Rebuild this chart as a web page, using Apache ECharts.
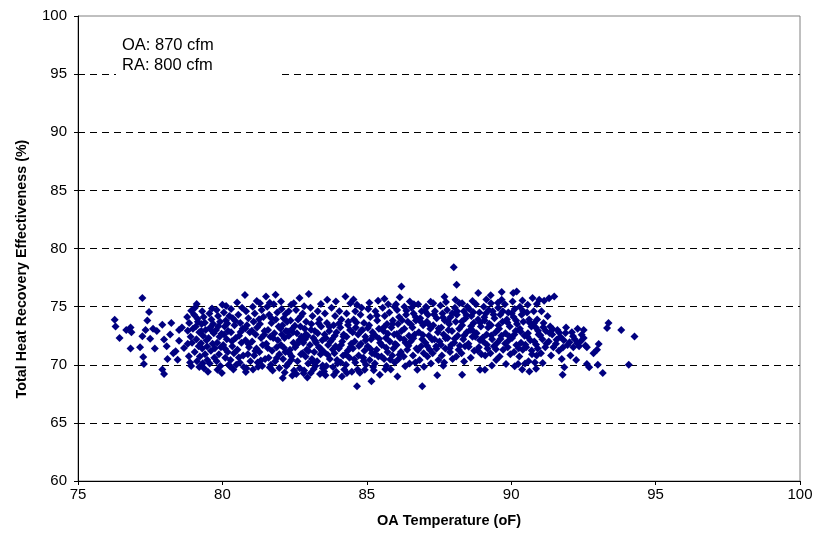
<!DOCTYPE html>
<html>
<head>
<meta charset="utf-8">
<script src="https://cdn.jsdelivr.net/npm/echarts@6/dist/echarts.min.js"></script>
<style>
  html, body { margin: 0; padding: 0; background: #fff; }
  #chart { width: 832px; height: 543px; }
</style>
</head>
<body>
<div id="chart"></div>
<script>
// Measured points: outdoor-air temperature (oF) and total heat recovery effectiveness (%)
const oaTemp = [
  76.27,76.30,76.44,76.67,76.82,76.85,76.82,
  77.23,77.46,77.40,77.34,77.23,77.15,77.26,77.28,77.50,77.66,77.73,77.92,77.92,77.98,77.98,77.60,
  78.07,78.23,78.19,78.30,78.38,78.50,78.50,78.45,78.10,78.60,78.80,78.67,78.84,78.92,
  78.78,78.85,78.90,78.95,78.80,78.88,78.98,78.92,
  79.05,79.11,79.02,79.15,79.08,79.20,79.10,79.18,79.04,79.22,79.12,79.20,
  79.30,79.35,79.28,79.42,79.33,79.45,79.30,79.40,79.48,79.36,79.27,
  79.50,79.55,79.62,79.58,79.70,79.52,79.66,79.60,79.72,79.56,79.68,
  79.98,79.80,79.85,79.92,79.78,79.90,79.82,79.95,79.88,79.80,79.93,80.00,
  80.05,80.12,80.08,80.20,80.15,80.03,80.18,80.10,80.22,80.06,80.24,
  80.30,80.36,80.42,80.30,80.46,80.34,80.40,80.28,80.48,80.38,
  80.55,80.62,80.70,80.58,80.66,80.52,80.72,80.60,80.68,80.74,
  80.78,80.82,80.90,80.85,80.95,80.80,80.92,80.88,80.97,80.83,
  81.05,81.12,81.08,81.20,81.15,81.03,81.18,81.10,81.22,81.06,
  81.30,81.36,81.42,81.30,81.46,81.34,81.40,81.28,81.48,81.38,81.51,
  81.55,81.62,81.70,81.58,81.66,81.52,81.72,81.60,81.68,81.74,
  81.84,81.78,81.90,81.85,81.95,81.80,81.92,81.88,81.97,81.83,81.97,
  82.03,82.09,82.05,82.12,82.08,82.20,82.15,82.03,82.18,82.10,82.22,82.06,82.24,
  82.38,82.30,82.36,82.42,82.30,82.46,82.34,82.40,82.28,82.48,82.44,82.32,
  82.67,82.55,82.62,82.70,82.58,82.66,82.52,82.72,82.60,82.68,82.56,82.74,
  82.99,82.78,82.90,82.85,82.95,82.80,82.92,82.88,82.97,82.83,82.94,82.86,
  83.05,83.12,83.08,83.20,83.15,83.03,83.18,83.10,83.22,83.06,83.24,
  83.30,83.36,83.42,83.30,83.46,83.34,83.40,83.28,83.48,83.38,83.44,
  83.63,83.55,83.62,83.70,83.58,83.66,83.52,83.72,83.60,83.57,83.74,
  83.78,83.90,83.85,83.95,83.80,83.92,83.88,83.97,83.83,83.94,
  84.05,84.12,84.08,84.20,84.15,84.03,84.18,84.10,84.14,84.22,
  84.26,84.43,84.30,84.36,84.42,84.30,84.46,84.34,84.40,84.28,84.48,
  84.60,84.66,84.66,84.55,84.62,84.70,84.58,84.52,84.72,84.60,84.68,
  84.93,84.78,84.90,84.85,84.95,84.80,84.92,84.88,84.97,84.82,
  85.16,85.05,85.12,85.08,85.20,85.15,85.03,85.18,85.10,85.22,
  85.39,85.45,85.30,85.36,85.42,85.30,85.46,85.34,85.40,85.28,
  85.55,85.62,85.70,85.58,85.66,85.52,85.72,85.60,85.68,85.74,
  85.78,85.90,85.85,85.95,85.80,85.92,85.88,85.97,85.83,85.96,
  86.20,86.14,86.06,86.05,86.12,86.08,86.20,86.15,86.03,86.18,86.10,
  86.49,86.30,86.36,86.42,86.30,86.46,86.34,86.40,86.28,86.48,
  86.75,86.55,86.62,86.70,86.58,86.66,86.52,86.72,86.60,86.68,
  86.92,86.78,86.90,86.85,86.95,86.80,86.92,86.88,86.97,86.83,
  87.05,87.12,87.08,87.20,87.15,87.03,87.18,87.10,87.22,87.06,
  87.44,87.30,87.36,87.42,87.30,87.46,87.34,87.40,87.28,87.48,
  87.55,87.62,87.70,87.58,87.66,87.52,87.72,87.60,87.68,87.74,
  87.78,87.90,87.85,87.95,87.80,87.92,87.88,87.97,87.83,
  88.01,88.11,88.07,88.05,88.12,88.08,88.20,88.15,88.03,88.18,88.10,
  88.30,88.30,88.36,88.42,88.30,88.46,88.34,88.40,88.28,88.48,
  88.55,88.62,88.70,88.58,88.66,88.52,88.72,88.60,88.68,
  88.86,88.92,88.78,88.90,88.85,88.95,88.80,88.92,88.88,88.97,
  89.09,89.05,89.12,89.08,89.20,89.15,89.03,89.18,89.10,89.22,
  89.29,89.30,89.36,89.42,89.30,89.46,89.34,89.40,89.28,89.48,
  89.67,89.67,89.55,89.62,89.70,89.58,89.66,89.52,89.72,89.60,
  89.82,89.78,89.90,89.85,89.95,89.80,89.92,89.88,89.97,
  90.07,90.19,90.05,90.24,90.12,90.08,90.20,90.15,90.03,90.18,90.10,
  90.30,90.36,90.42,90.30,90.46,90.34,90.40,90.28,90.48,90.38,
  90.57,90.74,90.63,90.55,90.62,90.70,90.58,90.66,90.52,90.72,90.60,
  90.97,90.78,90.90,90.85,90.95,90.80,90.92,90.88,90.82,
  91.14,91.09,91.05,91.12,91.20,91.08,91.18,91.03,
  91.49,91.26,91.35,91.42,91.30,91.46,91.38,
  91.78,91.84,91.60,91.70,91.55,91.90,91.82,91.65,91.95,91.75,
  92.10,92.20,92.30,92.15,92.40,92.05,92.35,92.25,
  92.51,92.51,92.57,92.62,92.85,92.97,93.03,93.32,93.37,93.81,94.27,92.62,92.70,93.00,93.17,94.07
];
const effectiveness = [
  73.87,73.30,72.30,73.00,73.20,72.80,71.40,
  75.74,74.54,73.80,73.00,72.45,71.50,70.67,70.07,72.24,71.40,72.90,73.45,69.60,69.20,72.17,73.10,
  71.60,73.60,72.60,71.00,71.16,73.00,72.07,70.44,70.50,73.20,72.93,71.44,70.73,74.65,
  74.1,73.6,72.4,71.9,71.8,70.2,73.1,69.9,
  74.9,75.22,74.3,73.7,73.3,72.8,72.2,71.6,71.1,70.7,70.3,69.8,
  74.6,74.1,73.5,73.0,72.5,72.1,71.4,70.9,70.4,69.7,72.9,
  69.4,74.4,73.9,73.2,72.7,72.3,71.8,71.2,70.6,70.1,73.5,
  69.3,74.7,74.2,73.7,73.0,72.4,71.9,71.5,70.9,70.3,69.9,75.17,
  74.5,73.8,73.3,72.9,72.2,71.7,71.1,70.6,70.0,72.6,74.2,
  74.8,74.0,73.4,72.8,72.3,71.6,71.0,70.4,70.0,69.6,
  74.3,73.6,73.1,72.5,71.9,71.3,70.8,70.2,74.9,69.8,
  76.0,74.6,74.0,73.4,72.8,72.1,71.5,70.9,70.3,69.7,
  75.0,74.4,73.7,73.2,72.6,72.0,71.4,70.8,70.2,69.6,
  75.3,74.7,74.1,73.5,72.9,72.3,71.7,71.1,70.5,69.9,75.88,
  75.0,74.3,73.6,73.0,72.4,71.8,71.2,70.6,70.0,69.5,
  76.03,75.2,74.5,73.9,73.3,72.7,72.1,71.5,70.9,70.3,69.72,
  75.45,68.86,74.8,74.0,73.4,72.9,72.3,71.7,71.1,70.5,69.9,72.6,73.7,
  75.17,74.6,73.8,73.1,72.5,71.9,71.3,70.7,70.1,69.5,72.8,71.0,
  75.74,74.7,73.9,73.3,72.7,72.1,71.5,70.9,70.3,69.7,69.2,72.4,
  76.08,74.4,73.7,73.1,72.5,71.9,71.3,70.7,70.1,69.5,68.9,72.2,
  74.9,74.2,73.5,72.9,72.3,71.7,71.1,70.5,69.9,69.3,71.9,
  74.6,73.9,73.3,72.7,72.1,71.5,70.9,70.3,69.7,69.2,71.2,
  75.6,74.4,73.6,72.9,72.3,71.7,71.1,70.5,69.9,69.1,72.0,
  74.9,74.2,73.4,72.8,72.2,71.6,71.0,70.4,69.8,69.4,
  74.6,73.9,73.2,72.6,72.0,71.4,70.8,70.2,69.0,69.6,
  75.88,75.3,74.4,73.7,73.0,72.4,71.8,71.2,70.6,70.0,69.4,
  74.6,75.17,68.14,73.9,73.2,72.6,72.0,71.4,70.8,70.2,69.6,
  69.57,74.3,73.6,73.0,72.4,71.8,71.2,70.6,70.0,74.9,
  68.57,74.8,74.1,73.4,72.8,72.2,71.6,71.0,70.4,69.8,
  75.5,69.14,74.6,73.8,73.1,72.5,71.9,71.3,70.7,70.1,
  74.9,74.2,73.5,72.9,72.3,71.7,71.1,70.5,69.9,75.2,
  74.5,73.8,73.2,72.6,72.0,71.4,70.8,70.2,69.6,75.0,
  76.74,75.8,69.0,74.7,74.1,73.5,72.9,72.3,71.7,71.1,70.5,
  75.45,75.0,74.3,73.7,73.1,72.5,71.9,71.3,70.7,70.1,
  69.57,74.9,74.4,73.8,73.2,72.6,72.0,71.4,70.8,70.2,
  68.14,75.2,74.6,74.0,73.4,72.8,72.2,71.6,71.0,70.4,
  75.0,74.3,73.7,73.1,72.5,71.9,71.3,70.7,70.1,74.9,
  69.09,75.3,74.6,74.0,73.4,72.8,72.2,71.6,71.0,70.4,
  75.1,74.4,73.8,73.2,72.6,72.0,71.4,70.8,70.2,75.4,
  74.7,74.1,73.5,72.9,72.3,71.7,71.1,70.5,73.0,
  78.38,76.89,75.6,74.9,74.3,73.7,73.1,72.5,71.9,71.3,70.7,
  69.14,75.3,74.6,74.0,73.4,72.8,72.2,71.6,71.0,75.0,
  74.8,74.2,73.6,73.0,72.4,71.8,71.2,70.6,72.9,
  76.17,69.57,75.2,74.5,73.9,73.3,72.7,72.1,71.5,70.9,
  69.57,75.0,74.4,73.8,73.2,72.6,72.0,71.4,70.8,74.7,
  75.97,75.3,74.6,74.0,73.4,72.8,72.2,71.6,71.0,70.4,
  76.26,75.6,74.9,74.3,73.7,73.1,72.5,71.9,71.3,70.7,
  70.06,75.2,74.5,73.9,73.3,72.7,72.1,71.5,70.9,
  76.17,76.31,75.45,70.06,74.8,74.1,73.5,72.9,72.3,71.7,71.1,
  75.0,74.3,73.7,73.1,72.5,71.9,71.3,70.7,70.1,69.6,
  75.17,75.74,69.43,74.5,73.9,73.3,72.7,72.1,71.5,70.9,70.3,
  75.6,74.6,73.9,73.2,72.6,72.0,71.4,70.8,70.2,
  75.5,70.14,74.6,73.6,72.9,72.2,71.5,71.0,
  75.88,74.17,73.3,72.6,72.0,71.5,70.8,
  69.14,69.78,73.0,72.4,71.8,73.2,72.1,71.2,71.7,70.5,
  72.8,72.2,73.1,71.5,72.0,70.8,71.6,70.4,
  73.0,72.3,71.66,71.5,71.0,71.3,71.78,73.16,73.6,73.0,72.44,70.06,69.78,70.0,69.28,70.0
];

// Further readings from the dense middle band, as [temperature, effectiveness]
const denseCore = [
  [79.14,73.95],[79.26,71.85],[79.39,73.62],[79.47,71.58],[79.61,72.98],[79.74,71.43],[79.86,73.31],[79.97,72.66],
  [80.09,71.38],[80.17,73.55],[80.33,72.02],[80.44,73.78],[80.57,70.62],[80.63,72.81],[80.79,73.12],[80.91,71.77],
  [81.02,72.93],[81.14,71.19],[81.27,73.91],[81.33,70.36],[81.45,72.58],[81.57,71.44],[81.69,74.02],[81.76,72.31],
  [81.88,70.58],[82.01,73.12],[82.13,71.46],[82.19,74.37],[82.27,72.85],[82.39,70.44],[82.51,73.36],[82.59,71.77],
  [82.71,74.15],[82.77,70.99],[82.89,72.63],[82.98,71.18],[83.07,73.02],[83.13,70.28],[83.21,72.06],[83.33,73.58],
  [83.39,71.41],[83.47,69.94],[83.54,72.61],[83.65,70.83],[83.71,73.27],[83.82,71.32],[83.89,72.49],[83.99,70.12],
  [84.04,73.55],[84.11,71.69],[84.19,72.44],[84.27,70.91],[84.35,73.41],[84.44,71.53],[84.51,72.79],[84.57,70.47],
  [84.64,73.63],[84.73,71.61],[84.81,72.95],[84.89,70.33],[84.96,72.11],[85.04,73.17],[85.13,71.36],[85.21,72.49],
  [85.27,70.92],[85.35,74.23],[85.43,72.24],[85.51,70.72],[85.59,73.22],[85.67,71.46],[85.73,72.67],[85.81,70.45],
  [85.89,73.51],[85.98,71.79],[86.04,72.64],[86.13,70.86],[86.22,73.82],[86.29,72.18],[86.37,74.64],[86.44,71.63],
  [86.53,73.47],[86.61,72.27],[86.69,74.11],[86.77,71.27],[86.86,73.72],[86.94,72.55],[87.02,74.61],[87.09,71.62],
  [87.17,73.41],[87.26,72.17],[87.33,74.33],[87.41,71.37],[87.49,73.12],[87.57,71.72],[87.64,74.07],[87.73,72.28],
  [87.81,73.77],[87.87,71.43],[87.96,74.42],[88.04,72.24],[88.13,74.61],[88.22,71.64],[88.29,73.72],[88.37,72.51],
  [88.45,74.28],[88.53,71.54],[88.61,73.31],[88.69,74.51],[88.76,72.41],[88.84,71.23],[88.93,73.62],[89.01,72.33],
  [89.07,74.08],[89.16,71.73],[89.24,73.52],[89.31,72.51],[89.39,74.32],[89.47,71.33],[89.56,73.38],[89.63,72.21],
  [89.71,74.61],[89.79,71.83],[89.87,73.63],[89.94,72.43],[90.02,74.42],[90.11,72.61],[90.17,73.81],[90.26,71.43],
  [90.33,72.83],[90.41,74.62],[90.49,71.73],[90.56,72.42],[90.64,73.62],[90.71,71.23],[90.79,73.58],[90.86,71.74],
  [90.93,72.92],[91.01,72.54],[91.11,73.23],[91.22,71.83],[91.33,72.74],[91.44,73.05],[91.57,72.14],[91.66,72.77],
  [91.79,71.48],[91.88,72.73],[92.02,71.93],[92.14,72.46],[92.28,71.84],[92.44,72.58],
  [79.32,70.12],[79.83,69.56],[80.26,69.88],[80.81,69.37],[81.24,69.82],[81.64,69.77],[82.16,69.33],[82.42,69.08],
  [82.81,69.26],[83.16,69.63],[83.52,69.42],[83.86,69.12],[84.31,69.28],[84.76,69.31],[85.24,69.52],[85.64,69.62],
  [86.33,69.87],[86.98,69.82],[87.65,69.92],[88.37,70.28],[89.33,69.94],[90.12,69.87],[90.86,69.65],
  [79.64,74.83],[80.13,75.05],[80.51,75.36],[81.19,75.48],[81.64,75.34],[82.47,75.28],[82.83,75.04],[83.41,75.22],
  [83.93,75.44],[84.54,75.61],[85.09,75.34],[85.61,75.67],[86.01,75.21],[86.63,75.21],[87.21,75.42],[87.69,75.84],
  [88.21,75.28],[88.66,75.48],[89.14,75.62],[89.54,75.34],[90.39,75.52],[90.89,75.23],[91.31,75.72]
];

// Axis ticks, titles and annotation
const xTicks = [75, 80, 85, 90, 95, 100];
const yTicks = [60, 65, 70, 75, 80, 85, 90, 95, 100];
const xTitle = 'OA Temperature (oF)';
const yTitle = 'Total Heat Recovery Effectiveness (%)';
const noteLines = ['OA: 870 cfm', 'RA: 800 cfm'];

const points = oaTemp.map((t, i) => [t, effectiveness[i]]).concat(denseCore);

const font = '"Liberation Sans", Arial, sans-serif';
const chart = echarts.init(document.getElementById('chart'));

chart.setOption({
  animation: false,
  backgroundColor: '#ffffff',
  grid: {
    left: 78, right: 32, top: 16, bottom: 62,
    show: true, borderColor: '#808080', borderWidth: 1, backgroundColor: '#ffffff'
  },
  xAxis: {
    type: 'value',
    min: xTicks[0], max: xTicks[xTicks.length - 1], interval: 5,
    axisLine: { show: true, onZero: false, lineStyle: { color: '#000', width: 1 } },
    axisTick: { show: true, inside: false, length: 4, lineStyle: { color: '#000' } },
    axisLabel: { fontFamily: font, fontSize: 15, color: '#000', margin: 6 },
    splitLine: { show: false }
  },
  yAxis: {
    type: 'value',
    min: yTicks[0], max: yTicks[yTicks.length - 1], interval: 5,
    axisLine: { show: true, onZero: false, lineStyle: { color: '#000', width: 1 } },
    axisTick: { show: true, inside: false, length: 4, lineStyle: { color: '#000' } },
    axisLabel: { fontFamily: font, fontSize: 15, color: '#000', margin: 11 },
    splitLine: {
      show: true, showMinLine: false, showMaxLine: false,
      lineStyle: { color: '#000', width: 1, type: [7, 5] }
    }
  },
  graphic: [
    {
      type: 'rect', z: 10,
      shape: { x: 116, y: 30, width: 166, height: 50 },
      style: { fill: '#ffffff' }
    },
    {
      type: 'text', z: 11, left: 122, top: 35,
      style: { text: noteLines.join('\n'), fontFamily: font, fontSize: 16.5, lineHeight: 20, fill: '#000' }
    },
    {
      type: 'text', z: 11, x: 449, y: 521,
      style: {
        text: xTitle, fontFamily: font, fontSize: 14.5, fontWeight: 'bold', fill: '#000',
        align: 'center', verticalAlign: 'middle'
      }
    },
    {
      type: 'text', z: 11, x: 22, y: 269, rotation: Math.PI / 2,
      style: {
        text: yTitle, fontFamily: font, fontSize: 14.3, fontWeight: 'bold', fill: '#000',
        align: 'center', verticalAlign: 'middle'
      }
    }
  ],
  series: [{
    type: 'scatter',
    data: points,
    symbol: 'diamond',
    symbolSize: 8,
    itemStyle: { color: '#000080', opacity: 1 },
    z: 5
  }]
});
</script>
</body>
</html>
